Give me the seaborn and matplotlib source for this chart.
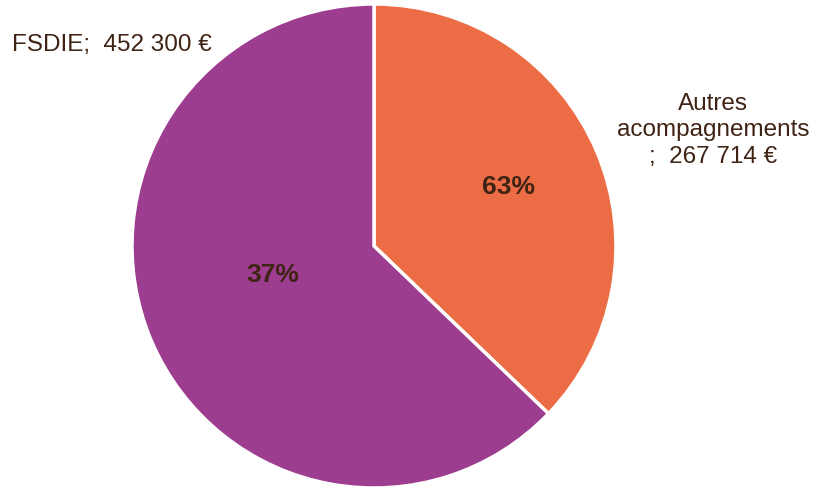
import matplotlib
matplotlib.use("Agg")
import matplotlib.pyplot as plt
import seaborn as sns

categories = ["Autres\nacompagnements\n;  267 714 €", "FSDIE;  452 300 €"]
values = [267714, 452300]
pct_labels = ["63%", "37%"]
colors = ["#EC6D45", "#9D3D8F"]

sns.set_theme(style="white")
plt.rcParams["font.family"] = ["Liberation Sans", "DejaVu Sans"]
text_color = "#3F2314"

W, H = 815, 489
fig = plt.figure(figsize=(W / 100, H / 100), dpi=100)
cx, cy, r = 374, 247, 242
ax = fig.add_axes([(cx - r) / W, (H - cy - r) / H, 2 * r / W, 2 * r / H])

wedges, _ = ax.pie(values, colors=colors, startangle=90, counterclock=False,
                   radius=1.0,
                   wedgeprops=dict(edgecolor="white", linewidth=2.5))
ax.set_xlim(-1, 1)
ax.set_ylim(-1, 1)
ax.axis("off")

# percentage labels inside slices
pct_pos = [(0.555, 0.25), (-0.42, -0.115)]
for lbl, (x, y) in zip(pct_labels, pct_pos):
    ax.text(x, y, lbl, ha="center", va="center", fontsize=19, fontweight="bold",
            color=text_color)

# category labels
cat_pos = [(1.40, 0.483, "center"), (-1.496, 0.835, "left")]
for lbl, (x, y, ha) in zip(categories, cat_pos):
    ax.text(x, y, lbl, ha=ha, va="center", fontsize=17.5, color=text_color,
            linespacing=1.26, clip_on=False, multialignment="center")

fig.savefig("out.png", dpi=100)
